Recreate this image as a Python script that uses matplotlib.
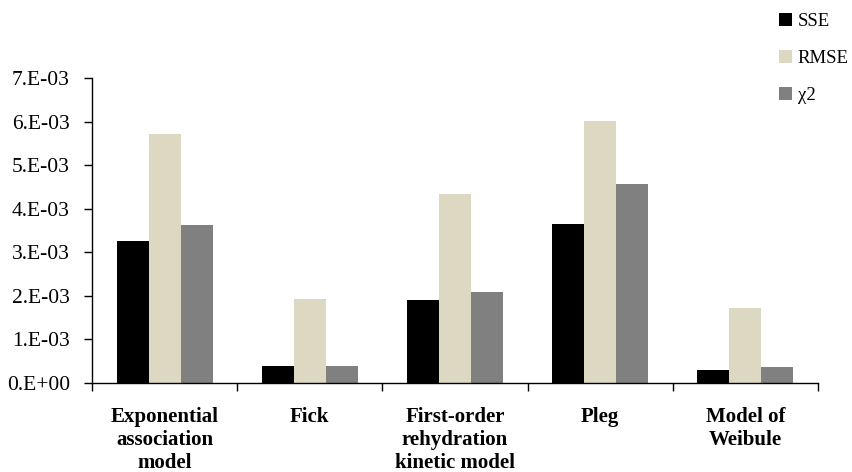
import matplotlib
matplotlib.use("Agg")
import matplotlib.pyplot as plt
from matplotlib.patches import Patch
import numpy as np

categories = ["Exponential\nassociation\nmodel", "Fick", "First-order\nrehydration\nkinetic model",
              "Pleg", "Model of\nWeibule"]
series_names = ["SSE", "RMSE", "\u03c72"]
sse = [3.26e-3, 0.39e-3, 1.90e-3, 3.65e-3, 0.30e-3]
rmse = [5.71e-3, 1.93e-3, 4.33e-3, 6.01e-3, 1.72e-3]
chi2 = [3.62e-3, 0.39e-3, 2.09e-3, 4.56e-3, 0.37e-3]
colors = ["#000000", "#DDD8C2", "#808080"]
ytick_values = [0, 1e-3, 2e-3, 3e-3, 4e-3, 5e-3, 6e-3, 7e-3]
ytick_labels = ["0.E+00", "1.E-03", "2.E-03", "3.E-03", "4.E-03", "5.E-03", "6.E-03", "7.E-03"]

plt.rcParams['font.family'] = ['Liberation Serif', 'DejaVu Serif']

fig = plt.figure(figsize=(8.52, 4.72), dpi=100)
ax = fig.add_axes([92/852, 1-383/472, (818-92)/852, (383-78)/472])

x = np.arange(len(categories))
w = 0.22
for i, (vals, c) in enumerate(zip([sse, rmse, chi2], colors)):
    ax.bar(x + (i - 1) * w, vals, width=w, color=c, edgecolor='none')

ax.set_xlim(-0.5, len(categories) - 0.5)
ax.set_ylim(0, 7e-3)
ax.set_yticks(ytick_values)
ax.set_yticklabels(ytick_labels, fontsize=15.5)

ax.set_xticks(np.arange(len(categories) + 1) - 0.5)
ax.set_xticklabels([])
ax.set_xticks(x, minor=True)
ax.set_xticklabels(categories, minor=True, fontsize=15, fontweight='bold', linespacing=1.2, va='top')
ax.tick_params(axis='x', which='minor', length=0, pad=17)
ax.tick_params(axis='x', which='major', length=6, width=1, direction='out')
ax.tick_params(axis='y', length=6, width=1, direction='out', pad=10)

for s in ['top', 'right']:
    ax.spines[s].set_visible(False)
for s in ['left', 'bottom']:
    ax.spines[s].set_linewidth(1)

handles = [Patch(facecolor=c, edgecolor='none') for c in colors]
fig.legend(handles, series_names, loc='upper left', bbox_to_anchor=(779/852, 1 - 13/472),
           frameon=False, fontsize=13.5, handlelength=0.7, handleheight=0.7,
           handletextpad=0.3, labelspacing=1.05, borderaxespad=0, borderpad=0)

fig.savefig("out.png", dpi=100)
